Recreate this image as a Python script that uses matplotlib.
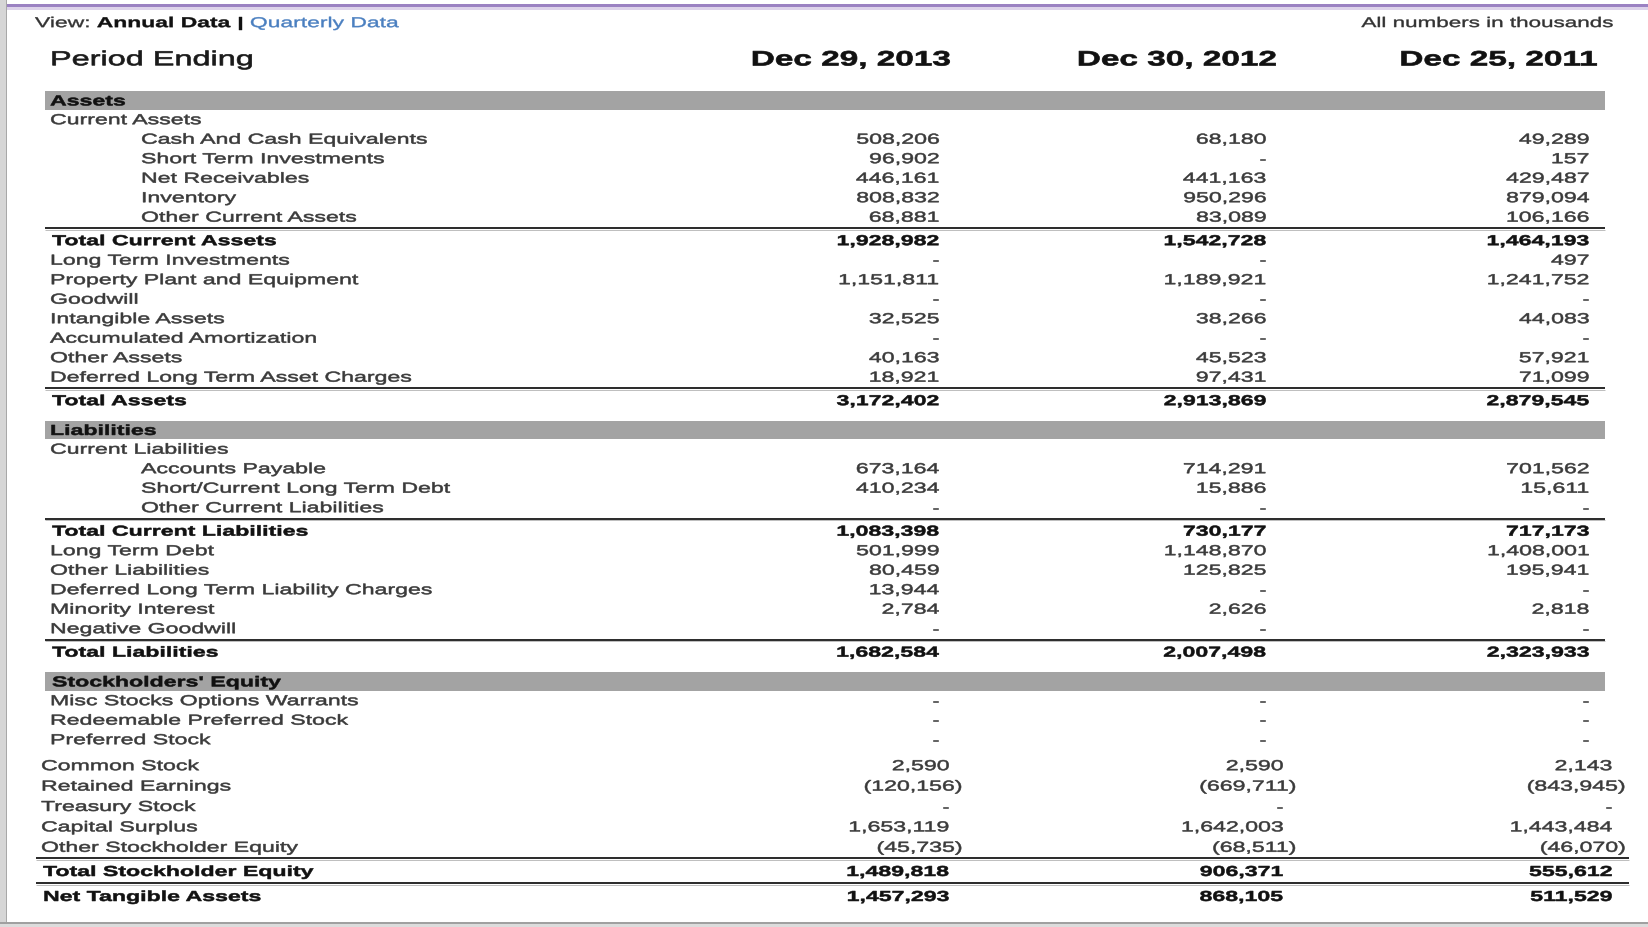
import matplotlib
matplotlib.use("Agg")
import matplotlib.pyplot as plt
from matplotlib.patches import Rectangle
from matplotlib.patheffects import AbstractPathEffect
from matplotlib.transforms import Affine2D

# ---------------- data ----------------
periods = ["Dec 29, 2013", "Dec 30, 2012", "Dec 25, 2011"]

current_assets_labels = ["Cash And Cash Equivalents", "Short Term Investments",
                         "Net Receivables", "Inventory", "Other Current Assets"]
current_assets_values = [
    [508206, 96902, 446161, 808832, 68881],
    [68180, None, 441163, 950296, 83089],
    [49289, 157, 429487, 879094, 106166],
]
total_current_assets = [1928982, 1542728, 1464193]

other_assets_labels = ["Long Term Investments", "Property Plant and Equipment", "Goodwill",
                       "Intangible Assets", "Accumulated Amortization", "Other Assets",
                       "Deferred Long Term Asset Charges"]
other_assets_values = [
    [None, 1151811, None, 32525, None, 40163, 18921],
    [None, 1189921, None, 38266, None, 45523, 97431],
    [497, 1241752, None, 44083, None, 57921, 71099],
]
total_assets = [3172402, 2913869, 2879545]

current_liab_labels = ["Accounts Payable", "Short/Current Long Term Debt", "Other Current Liabilities"]
current_liab_values = [
    [673164, 410234, None],
    [714291, 15886, None],
    [701562, 15611, None],
]
total_current_liab = [1083398, 730177, 717173]

other_liab_labels = ["Long Term Debt", "Other Liabilities", "Deferred Long Term Liability Charges",
                     "Minority Interest", "Negative Goodwill"]
other_liab_values = [
    [501999, 80459, 13944, 2784, None],
    [1148870, 125825, None, 2626, None],
    [1408001, 195941, None, 2818, None],
]
total_liab = [1682584, 2007498, 2323933]

pref_labels = ["Misc Stocks Options Warrants", "Redeemable Preferred Stock", "Preferred Stock"]
pref_values = [
    [None, None, None],
    [None, None, None],
    [None, None, None],
]

equity_labels = ["Common Stock", "Retained Earnings", "Treasury Stock", "Capital Surplus",
                 "Other Stockholder Equity"]
equity_values = [
    [2590, -120156, None, 1653119, -45735],
    [2590, -669711, None, 1642003, -68511],
    [2143, -843945, None, 1443484, -46070],
]
total_equity = [1489818, 906371, 555612]
net_tangible_assets = [1457293, 868105, 511529]

# ---------------- style / layout ----------------
W, H = 1648, 927
FONT = "Liberation Sans"
SX = 1.6          # horizontal stretch of the screenshot text
FS = 10.4         # body font size (pt)
TXT = "#3a3a3a"
BOLD = "#111111"
TOP_COLS = [939, 1266, 1589]
BOT_COLS = [949, 1283, 1612]
NEG_OFF = 13


class StretchX(AbstractPathEffect):
    def __init__(self, sx, ha, lw=0.4):
        super().__init__()
        self.sx = sx
        self.ha = ha
        self.lw = lw

    def draw_path(self, renderer, gc, tpath, affine, rgbFace=None):
        xs = tpath.vertices[:, 0]
        if len(xs) == 0:
            return
        if self.ha == "left":
            x0 = 0.0
        elif self.ha == "right":
            x0 = xs.max()
        else:
            x0 = 0.5 * (xs.min() + xs.max())
        pre = Affine2D().translate(-x0, 0).scale(self.sx, 1.0).translate(x0, 0)
        gc0 = renderer.new_gc()
        gc0.copy_properties(gc)
        gc0.set_linewidth(self.lw)
        renderer.draw_path(gc0, tpath, pre + affine, rgbFace)
        gc0.restore()


fig = plt.figure(figsize=(W / 100, H / 100), dpi=100)
ax = fig.add_axes([0, 0, 1, 1])
ax.set_xlim(0, W)
ax.set_ylim(H, 0)
ax.axis("off")
renderer = fig.canvas.get_renderer()


def put(x, yc, s, size=FS, weight="normal", color=TXT, ha="left", lw=0.4):
    px = size / 0.72
    yb = yc + 0.358 * px
    return ax.text(x, yb, s, fontsize=size, fontweight=weight, color=color, ha=ha,
                   va="baseline", family=FONT, path_effects=[StretchX(SX, ha, lw)], zorder=5)


def fmt(v):
    if v is None:
        return "-"
    if v < 0:
        return f"({-v:,})"
    return f"{v:,}"


def value_row(yc, label, vals, lx, cols, bold=False, neg_off=0):
    w = "bold" if bold else "normal"
    c = BOLD if bold else TXT
    put(lx, yc, label, weight=w, color=c)
    for v, R in zip(vals, cols):
        x = R + (neg_off if (v is not None and v < 0) else 0)
        put(x, yc, fmt(v), weight=w, color=c, ha="right")


def rule(y, x0, x1):
    ax.plot([x0, x1], [y, y], color="#2e2e2e", lw=2.0 * 0.72, solid_capstyle="butt", zorder=3)
    ax.plot([x0, x1], [y + 1.6, y + 1.6], color="#b8b8b8", lw=0.9 * 0.72, solid_capstyle="butt", zorder=3)


def band(top, label, lx):
    ax.add_patch(Rectangle((45, top), 1560, 18.5, facecolor="#a3a3a3", edgecolor="none", zorder=2))
    put(lx, top + 9.25, label, weight="bold", color=BOLD)


# ---------------- frame ----------------
ax.add_patch(Rectangle((0, 4), W, 3, facecolor="#9b82c2", edgecolor="none", zorder=1))
ax.add_patch(Rectangle((0, 7), W, 2.5, facecolor="#ddd3ea", edgecolor="none", zorder=1))
ax.add_patch(Rectangle((0, 0), 6, H, facecolor="#d6d6d6", edgecolor="none", zorder=6))
ax.add_patch(Rectangle((6, 0), 1.5, H, facecolor="#a8a8a8", edgecolor="none", zorder=6))
ax.add_patch(Rectangle((0, 922), W, 1.6, facecolor="#a0a0a0", edgecolor="none", zorder=6))
ax.add_patch(Rectangle((0, 923.6), W, 3.4, facecolor="#dcdcdc", edgecolor="none", zorder=6))

# ---------------- top line ----------------
vs = 10.3
x = 35.0
sp = 0.278 * (vs / 0.72) * SX
for s, wt, col in [("View:", "normal", "#333333"), ("Annual Data", "bold", "#111111"),
                   ("|", "bold", "#111111"), ("Quarterly Data", "normal", "#4a7fc0")]:
    t = put(x, 22, s, size=vs, weight=wt, color=col, lw=0.3)
    x += t.get_window_extent(renderer).width * SX + sp
put(1614, 22, "All numbers in thousands", size=10.1, color="#333333", ha="right", lw=0.3)

# ---------------- header ----------------
put(50, 58, "Period Ending", size=14.6, color="#1a1a1a", lw=0.5)
for p, R in zip(periods, [951, 1277, 1598]):
    put(R, 58, p, size=15.0, weight="bold", color="#111111", ha="right", lw=0.5)

# ---------------- body ----------------
PITCH = 19.5
y = 91.0
band(y, "Assets", 50)
y += 28
put(50, y, "Current Assets")
for i, lab in enumerate(current_assets_labels):
    y += PITCH
    value_row(y, lab, [current_assets_values[k][i] for k in range(3)], 141, TOP_COLS)
y += 11.5
rule(y, 45, 1605)
y += 12
value_row(y, "Total Current Assets", total_current_assets, 52, TOP_COLS, bold=True)
for i, lab in enumerate(other_assets_labels):
    y += PITCH
    value_row(y, lab, [other_assets_values[k][i] for k in range(3)], 50, TOP_COLS)
y += 11.5
rule(y, 45, 1605)
y += 12
value_row(y, "Total Assets", total_assets, 52, TOP_COLS, bold=True)

y += 20.5
band(y, "Liabilities", 50)
y += 28
put(50, y, "Current Liabilities")
for i, lab in enumerate(current_liab_labels):
    y += PITCH
    value_row(y, lab, [current_liab_values[k][i] for k in range(3)], 141, TOP_COLS)
y += 11.5
rule(y, 45, 1605)
y += 12
value_row(y, "Total Current Liabilities", total_current_liab, 52, TOP_COLS, bold=True)
for i, lab in enumerate(other_liab_labels):
    y += PITCH
    value_row(y, lab, [other_liab_values[k][i] for k in range(3)], 50, TOP_COLS)
y += 11.5
rule(y, 45, 1605)
y += 12
value_row(y, "Total Liabilities", total_liab, 52, TOP_COLS, bold=True)

y += 20.5
band(y, "Stockholders' Equity", 52)
y += 28
for i, lab in enumerate(pref_labels):
    if i:
        y += PITCH
    value_row(y, lab, [pref_values[k][i] for k in range(3)], 50, TOP_COLS)

y += 26
for i, lab in enumerate(equity_labels):
    if i:
        y += 20.4
    value_row(y, lab, [equity_values[k][i] for k in range(3)], 41, BOT_COLS, neg_off=NEG_OFF)
y += 11.7
rule(y, 36, 1629)
y += 12.5
value_row(y, "Total Stockholder Equity", total_equity, 43, BOT_COLS, bold=True)
y += 12.5
rule(y, 36, 1629)
y += 12.5
value_row(y, "Net Tangible Assets", net_tangible_assets, 43, BOT_COLS, bold=True)

fig.savefig("out.png", dpi=100, facecolor="white")
